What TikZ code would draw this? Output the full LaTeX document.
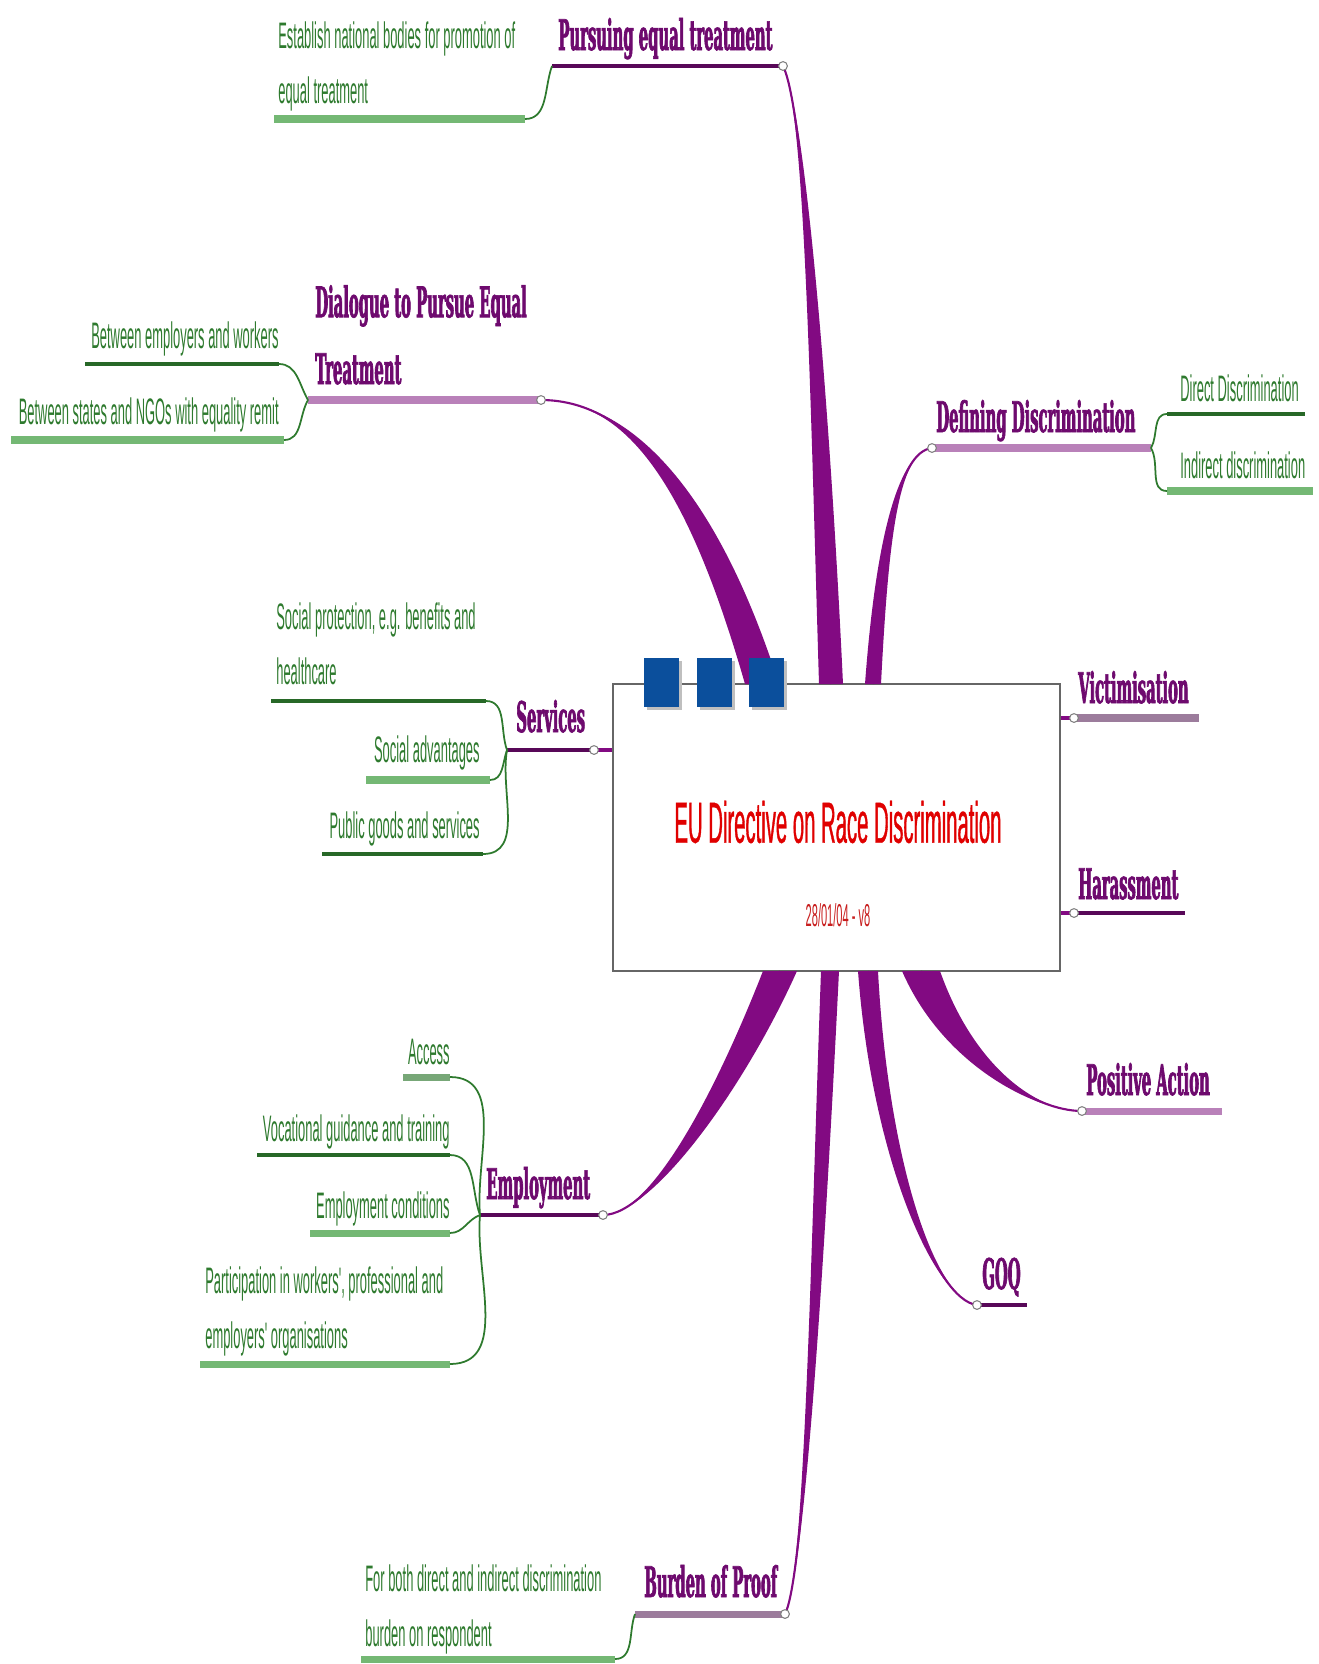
\documentclass[tikz,border=0pt]{standalone}
\usepackage{fontspec}
\usetikzlibrary{calc}
\newfontfamily\leaffont[FakeStretch=0.35]{Liberation Sans}
\newfontfamily\titlefont[FakeStretch=0.35, FakeBold=0.6]{Liberation Sans}
\newfontfamily\topicfont[FakeStretch=0.35, FakeBold=1.5]{DejaVu Serif}

\definecolor{topicpurple}{HTML}{6E0A6E}
\definecolor{branchpurple}{HTML}{820A82}
\definecolor{palepurple}{HTML}{B981B9}
\definecolor{greypurple}{HTML}{9C7C9C}
\definecolor{leafgreen}{HTML}{2E7A2E}
\definecolor{palegreen}{HTML}{74B874}
\definecolor{titlered}{HTML}{E00000}
\definecolor{datered}{HTML}{C81E1E}
\definecolor{squareblue}{HTML}{0B4F9C}

\tikzset{
  topic/.style={inner sep=0pt, text=topicpurple, align=left,
    font=\topicfont\bfseries\fontsize{24}{38}\selectfont},
  leaf/.style={inner sep=0pt, text=leafgreen, align=left,
    font=\leaffont\fontsize{21}{31}\selectfont},
  hubbox/.style={draw=gray!80!black, fill=white, line width=1.2pt,
    minimum width=8.94cm, minimum height=5.74cm},
  darkrule/.style={line width=2pt, draw=topicpurple!80!black},
  palerule/.style={line width=4pt, draw=palepurple},
  greyrule/.style={line width=4pt, draw=greypurple},
  leafrule/.style={line width=2pt, draw=leafgreen!85!black},
  paleleafrule/.style={line width=4pt, draw=palegreen},
  leafline/.style={line width=1pt, draw=leafgreen},
  knot/.style={circle, draw=gray, fill=white, line width=0.6pt,
    inner sep=0pt, minimum size=5pt}
}

% tapered branch: knot, control, control, foot, half width
\newcommand{\wedgebranch}[5]{%
  \fill[branchpurple] (#1) .. controls (#2) and ($(#3)+(-0.8*#5,0)$) .. ($(#4)+(-#5,0)$)
    -- ($(#4)+(#5,0)$) .. controls ($(#3)+(0.8*#5,0)$) and (#2) .. (#1);
  \draw[branchpurple, line width=1.2pt] (#1) .. controls (#2) and (#3) .. (#4);
}

\begin{document}
\begin{tikzpicture}[x=0.02cm, y=-0.02cm]
  \useasboundingbox (0,0) rectangle (1319,1664);

  % centre
  \node[hubbox] (hub) at (836.5,827.5) {};
  \node[text=titlered, font=\titlefont\fontsize{33}{33}\selectfont] (title) at (838,822)
    {EU Directive on Race Discrimination};
  \node[text=datered, font=\leaffont\fontsize{18}{18}\selectfont] (date) at (838,915)
    {28/01/04 - v8};

  % knots and feet
  \coordinate (kPursue) at (783,66);     \coordinate (pursueFoot) at (831,684);
  \coordinate (kDialogue) at (541,400);  \coordinate (dialogueFoot) at (762,684);
  \coordinate (kDefining) at (932,448);  \coordinate (definingFoot) at (873,684);
  \coordinate (kVictim) at (1074,718);
  \coordinate (kHarass) at (1074,913);
  \coordinate (kPositive) at (1082,1111); \coordinate (positiveFoot) at (921,971);
  \coordinate (kGoq) at (977,1305);      \coordinate (goqFoot) at (868,971);
  \coordinate (kBurden) at (785,1614);   \coordinate (burdenFoot) at (830,971);
  \coordinate (kEmploy) at (603,1215);   \coordinate (employFoot) at (780,971);
  \coordinate (kServices) at (594,750);

  \wedgebranch{kPursue}{805,110}{820,400}{pursueFoot}{12}
  \wedgebranch{kDialogue}{625,400}{700,480}{dialogueFoot}{17}
  \wedgebranch{kDefining}{898,452}{882,540}{definingFoot}{8}
  \wedgebranch{kPositive}{1035,1111}{958,1065}{positiveFoot}{19}
  \wedgebranch{kGoq}{935,1300}{880,1160}{goqFoot}{10}
  \wedgebranch{kBurden}{805,1575}{818,1250}{burdenFoot}{9}
  \wedgebranch{kEmploy}{652,1215}{730,1090}{employFoot}{17}
  \draw[branchpurple, line width=2pt] (hub.east |- kVictim) -- (kVictim);
  \draw[branchpurple, line width=2pt] (hub.east |- kHarass) -- (kHarass);
  \draw[branchpurple, line width=2pt] (hub.west |- kServices) -- (kServices);

  \foreach \sx in {644,697,749}{
    \fill[black!25] (\sx+3,661) rectangle (\sx+38,710);
    \fill[squareblue] (\sx,658) rectangle (\sx+35,707);
  }

  % main topics
  \coordinate (pursueEnd) at (552,66);
  \draw[darkrule] (pursueEnd) -- (kPursue);
  \node[topic, anchor=base west] (pursue) at (558,50) {Pursuing equal treatment};

  \coordinate (dialogueEnd) at (308,400);
  \draw[palerule] (dialogueEnd) -- (kDialogue);
  \node[topic, anchor=base west] (dialogue) at (315,384) {Dialogue to Pursue Equal\\Treatment};

  \coordinate (definingEnd) at (1151,448);
  \draw[palerule] (kDefining) -- (definingEnd);
  \node[topic, anchor=base west] (defining) at (936,432) {Defining Discrimination};

  \draw[greyrule] (kVictim) -- (1199,718);
  \node[topic, anchor=base west] (victim) at (1078,703) {Victimisation};

  \draw[darkrule] (kHarass) -- (1185,913);
  \node[topic, anchor=base west] (harass) at (1078,899) {Harassment};

  \draw[palerule] (kPositive) -- (1222,1111);
  \node[topic, anchor=base west] (positive) at (1086,1095) {Positive Action};

  \draw[darkrule] (kGoq) -- (1027,1305);
  \node[topic, anchor=base west] (goq) at (982,1289) {GOQ};

  \coordinate (burdenEnd) at (635,1614);
  \draw[greyrule] (burdenEnd) -- (kBurden);
  \node[topic, anchor=base west] (burden) at (644,1597) {Burden of Proof};

  \coordinate (employEnd) at (480,1215);
  \draw[darkrule] (employEnd) -- (kEmploy);
  \node[topic, anchor=base west] (employ) at (486,1199) {Employment};

  \coordinate (servicesEnd) at (507,750);
  \draw[darkrule] (servicesEnd) -- (kServices);
  \node[topic, anchor=base west] (services) at (516,732) {Services};

  % leaves
  \coordinate (establishEnd) at (525,119);
  \draw[paleleafrule] (274,119) -- (establishEnd);
  \draw[leafline] (pursueEnd) to[out=250, in=0] (establishEnd);
  \node[leaf, anchor=base west] (establish) at (278,103)
    {Establish national bodies for promotion of\\equal treatment};

  \coordinate (betweenEmpEnd) at (279,364);
  \draw[leafrule] (85,364) -- (betweenEmpEnd);
  \draw[leafline] (dialogueEnd) to[out=120, in=0] (betweenEmpEnd);
  \node[leaf, anchor=base east] (betweenEmp) at (279,348) {Between employers and workers};

  \coordinate (betweenStatesEnd) at (284,440);
  \draw[paleleafrule] (11,440) -- (betweenStatesEnd);
  \draw[leafline] (dialogueEnd) to[out=240, in=0] (betweenStatesEnd);
  \node[leaf, anchor=base east] (betweenStates) at (279,424) {Between states and NGOs with equality remit};

  \coordinate (directEnd) at (1167,414);
  \draw[leafrule] (directEnd) -- (1305,414);
  \draw[leafline] (definingEnd) to[out=60, in=180] (directEnd);
  \node[leaf, anchor=base west] (direct) at (1180,401) {Direct Discrimination};

  \coordinate (indirectEnd) at (1167,491);
  \draw[paleleafrule] (indirectEnd) -- (1313,491);
  \draw[leafline] (definingEnd) to[out=-60, in=180] (indirectEnd);
  \node[leaf, anchor=base west] (indirect) at (1180,478) {Indirect discrimination};

  \coordinate (socialProtEnd) at (486,701);
  \draw[leafrule] (271,701) -- (socialProtEnd);
  \draw[leafline] (servicesEnd) to[out=110, in=0] (socialProtEnd);
  \node[leaf, anchor=base west] (socialProt) at (276,684)
    {Social protection, e.g. benefits and\\healthcare};

  \coordinate (socialAdvEnd) at (490,780);
  \draw[paleleafrule] (366,780) -- (socialAdvEnd);
  \draw[leafline] (servicesEnd) to[out=250, in=0] (socialAdvEnd);
  \node[leaf, anchor=base east] (socialAdv) at (480,762) {Social advantages};

  \coordinate (publicEnd) at (483,854);
  \draw[leafrule] (322,854) -- (publicEnd);
  \draw[leafline] (servicesEnd) to[out=260, in=0] (publicEnd);
  \node[leaf, anchor=base east] (public) at (480,838) {Public goods and services};

  \coordinate (accessEnd) at (450,1077);
  \draw[paleleafrule, draw=palegreen!70!gray] (403,1077) -- (accessEnd);
  \draw[leafline] (employEnd) to[out=95, in=0] (accessEnd);
  \node[leaf, anchor=base east] (access) at (450,1064) {Access};

  \coordinate (vocationalEnd) at (450,1155);
  \draw[leafrule] (257,1155) -- (vocationalEnd);
  \draw[leafline] (employEnd) to[out=110, in=0] (vocationalEnd);
  \node[leaf, anchor=base east] (vocational) at (450,1141) {Vocational guidance and training};

  \coordinate (conditionsEnd) at (450,1233);
  \draw[paleleafrule] (310,1233) -- (conditionsEnd);
  \draw[leafline] (employEnd) to[out=200, in=0] (conditionsEnd);
  \node[leaf, anchor=base east] (conditions) at (450,1218) {Employment conditions};

  \coordinate (participEnd) at (450,1364);
  \draw[paleleafrule] (200,1364) -- (participEnd);
  \draw[leafline] (employEnd) to[out=265, in=0] (participEnd);
  \node[leaf, anchor=base west] (particip) at (205,1348)
    {Participation in workers', professional and\\employers' organisations};

  \coordinate (forBothEnd) at (615,1659);
  \draw[paleleafrule] (361,1659) -- (forBothEnd);
  \draw[leafline] (burdenEnd) to[out=250, in=0] (forBothEnd);
  \node[leaf, anchor=base west] (forBoth) at (365,1646)
    {For both direct and indirect discrimination\\burden on respondent};

  % knots on top
  \foreach \k in {kPursue,kDialogue,kDefining,kVictim,kHarass,kPositive,kGoq,kBurden,kEmploy,kServices}
    \node[knot] at (\k) {};
\end{tikzpicture}
\end{document}
